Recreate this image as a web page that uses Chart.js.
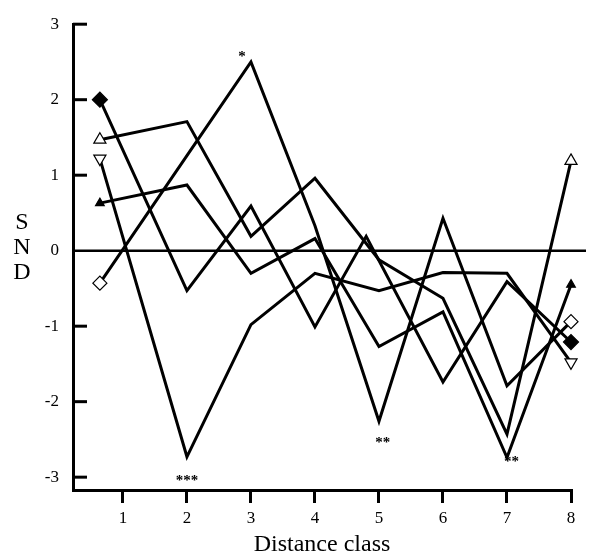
<!DOCTYPE html>
<html>
<head>
<meta charset="utf-8">
<script src="https://cdn.jsdelivr.net/npm/chart.js@4.4.1/dist/chart.umd.min.js"></script>
<style>
  html, body { margin: 0; padding: 0; background: #fff; }
  #wrap { width: 593px; height: 560px; }
</style>
</head>
<body>
<div id="wrap"><canvas id="snd"></canvas></div>
<script>
// distance classes; class 1 sits left of its tick in the original figure
const classes = [1, 2, 3, 4, 5, 6, 7, 8];
const classPos = [0.64, 2, 3, 4, 5, 6, 7, 8];
const fdPos = [0.64, 2, 3, 4, 4.8, 6, 7, 8]; // the filled-diamond peak is drawn early
const yTicks = [-3, -2, -1, 0, 1, 2, 3];
const yTitle = ['S', 'N', 'D'];

// SND per distance class, one array per series
const filledDiamond = [2.0, -0.53, 0.59, -1.01, 0.19, -1.74, -0.41, -1.21];
const openTriUp     = [1.47, 1.71, 0.19, 0.96, -0.12, -0.63, -2.43, 1.19];
const filledTriUp   = [0.63, 0.87, -0.30, 0.16, -1.27, -0.81, -2.74, -0.45];
const openTriDown   = [1.22, -2.73, -0.98, -0.30, -0.53, -0.29, -0.30, -1.48];
const openDiamond   = [-0.43, 1.26, 2.5, 0.33, -2.26, 0.43, -1.79, -0.94];

// significance marks (in data units)
const stars = [
  { x: 2.86, y: 2.62, text: '*' },
  { x: 2.0, y: -3.0, text: '***' },
  { x: 5.06, y: -2.5, text: '**' },
  { x: 7.07, y: -2.75, text: '**' }
];

const serif = '"Liberation Serif", "Times New Roman", serif';

function series(label, values, pos, style, r, fill, rot) {
  const last = values.length - 1;
  return {
    label: label,
    data: values.map((v, i) => ({ x: pos[i], y: v })),
    clip: false,
    borderColor: '#000',
    borderWidth: 3,
    tension: 0,
    pointStyle: style,
    pointRotation: rot || 0,
    pointRadius: c => (c.dataIndex === 0 || c.dataIndex === last) ? r : 0,
    pointBackgroundColor: fill,
    pointBorderColor: '#000',
    pointBorderWidth: 1.2
  };
}

// zero line, inward y ticks, stars and the stacked y title
const decor = {
  id: 'decor',
  beforeDatasetsDraw(chart) {
    const ctx = chart.ctx, a = chart.chartArea, x = chart.scales.x, y = chart.scales.y;
    ctx.save();
    ctx.strokeStyle = '#000';
    const y0 = y.getPixelForValue(0);
    ctx.lineWidth = 2.5;
    ctx.beginPath(); ctx.moveTo(a.left, y0); ctx.lineTo(a.right + 15, y0); ctx.stroke();
    ctx.lineWidth = 3;
    yTicks.forEach(v => {
      if (v === 0) return;
      const py = y.getPixelForValue(v);
      ctx.beginPath(); ctx.moveTo(a.left, py); ctx.lineTo(a.left + 14, py); ctx.stroke();
    });
    ctx.fillStyle = '#000';
    ctx.textAlign = 'center';
    ctx.textBaseline = 'middle';
    ctx.font = 'bold 15px ' + serif;
    stars.forEach(s => ctx.fillText(s.text, x.getPixelForValue(s.x), y.getPixelForValue(s.y) + 4));
    ctx.font = '24px ' + serif;
    yTitle.forEach((c, i) => ctx.fillText(c, 22, y0 - 3 + (i - 1) * 25));
    ctx.restore();
  }
};

new Chart(document.getElementById('snd'), {
  type: 'line',
  data: {
    datasets: [
      series('filled diamond', filledDiamond, fdPos, 'rectRot', 7.5, '#000'),
      series('open triangle up', openTriUp, classPos, 'triangle', 7, '#fff'),
      series('filled triangle up', filledTriUp, classPos, 'triangle', 5, '#000'),
      series('open triangle down', openTriDown, classPos, 'triangle', 7, '#fff', 180),
      series('open diamond', openDiamond, classPos, 'rectRot', 7, '#fff')
    ]
  },
  options: {
    responsive: true,
    maintainAspectRatio: false,
    animation: false,
    layout: { padding: { top: 20, right: 22, left: 0, bottom: 0 } },
    plugins: { legend: { display: false }, tooltip: { enabled: false } },
    scales: {
      x: {
        type: 'linear',
        min: 0.22,
        max: 8,
        afterBuildTicks: s => { s.ticks = classes.map(v => ({ value: v })); },
        afterFit: s => { s.height = 70; },
        ticks: { color: '#000', font: { family: serif, size: 17 }, padding: 5 },
        grid: { drawOnChartArea: false, drawTicks: true, tickLength: 13, lineWidth: 3, color: '#000' },
        border: { color: '#000', width: 3 },
        title: { display: true, text: 'Distance class', color: '#000', font: { family: serif, size: 24 }, padding: { top: 0, bottom: 1 } }
      },
      y: {
        type: 'linear',
        min: -3.17,
        max: 3,
        afterBuildTicks: s => { s.ticks = yTicks.map(v => ({ value: v })); },
        afterFit: s => { s.width = 73; },
        ticks: { color: '#000', font: { family: serif, size: 17 }, padding: 14 },
        grid: { color: 'rgba(0,0,0,0)', drawTicks: false },
        border: { color: '#000', width: 3 }
      }
    }
  },
  plugins: [decor]
});
</script>
</body>
</html>
